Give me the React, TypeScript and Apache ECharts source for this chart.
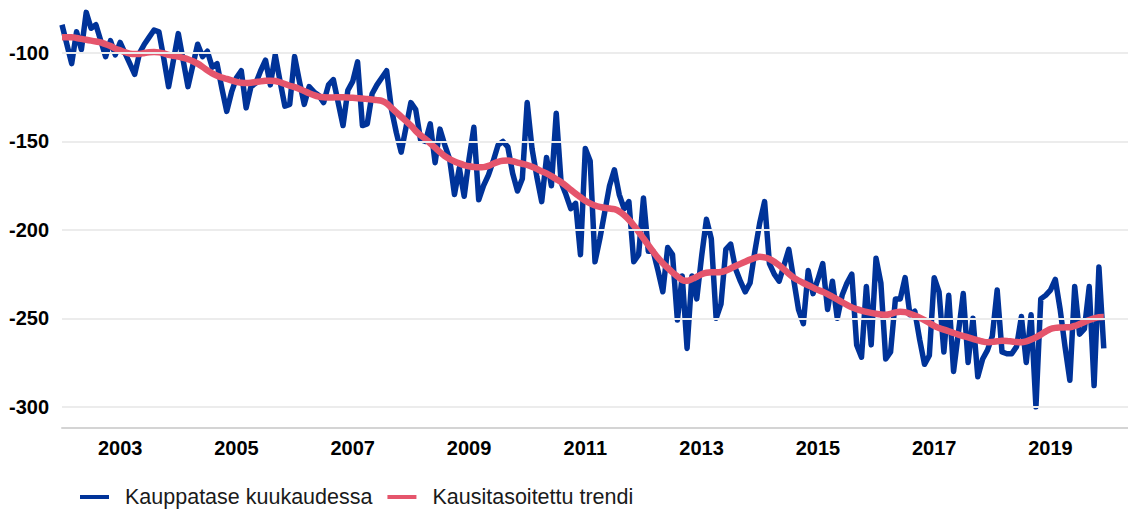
import React, { useEffect, useRef } from "react";
import * as echarts from "echarts";

const START_YEAR = 2002;
const AXIS_MONTHS = 221;
const YEAR_LABELS = [2003, 2005, 2007, 2009, 2011, 2013, 2015, 2017, 2019];
const Y_TICKS = [-100, -150, -200, -250, -300];
const SERIES_NAMES = ["Kauppatase kuukaudessa", "Kausitasoitettu trendi"];

const monthlyBalance = [
  -84, -95, -106, -88, -98, -77, -86, -84, -93, -102, -93, -101,
  -94, -100, -106, -112, -100, -95, -91, -87, -88, -103, -119, -104,
  -89, -104, -119, -107, -95, -102, -99, -108, -106, -120, -133, -122,
  -114, -110, -131, -119, -117, -110, -104, -118, -101, -116, -130, -129,
  -102, -116, -129, -119, -122, -124, -128, -118, -115, -128, -141, -121,
  -116, -105, -141, -140, -123, -118, -114, -110, -132, -145, -156, -142,
  -128, -132, -149, -150, -140, -162, -143, -152, -160, -180, -165, -181,
  -160, -142, -183, -175, -169, -161, -152, -150, -153, -168, -178, -171,
  -128, -154, -170, -184, -159, -175, -134, -173, -180, -188, -185, -214,
  -154, -161, -218, -205, -190, -175, -166, -180, -188, -184, -218, -214,
  -182, -212, -212, -223, -235, -210, -214, -251, -226, -267, -226, -239,
  -215, -194, -205, -250, -242, -211, -208, -222, -229, -235, -230, -212,
  -196, -184, -219, -225, -229, -220, -211, -228, -245, -253, -223, -236,
  -228, -219, -245, -229, -250, -237, -230, -225, -265, -272, -232, -265,
  -216, -230, -273, -269, -239, -239, -227, -248, -246, -262, -276, -271,
  -227, -235, -269, -237, -280, -258, -236, -275, -250, -283, -273, -268,
  -260, -234, -269, -270, -270, -266, -249, -275, -248, -300, -239, -237,
  -234, -228, -245, -266, -285, -232, -259, -256, -232, -288, -221, -267,
];

const seasonalTrend = [
  -91, -91, -91, -91.5, -92, -92.5, -93, -93.5, -94, -95, -96, -97.5,
  -98.5, -99.5, -100.3, -100.6, -100.5, -100, -99.6, -99.4, -99.6, -100.2, -101, -101.5,
  -102, -102.7, -103.5, -104.6, -106, -107.8, -109.8, -111.5, -112.8, -113.8, -114.6, -115.5,
  -116.3, -116.8, -117, -116.8, -116.4, -116, -115.7, -115.6, -115.8, -116.5, -117.5, -118.5,
  -119.3, -120.3, -121.5, -122.7, -123.8, -124.6, -125, -125.1, -125.1, -125, -125, -125.1,
  -125.3, -125.5, -125.7, -126, -126.3, -126.6, -127, -128.5, -131, -133.5, -136, -138.5,
  -141, -144, -146.5, -148.6, -151, -153.5, -156, -158.3, -160, -161.3, -162.4, -163.3,
  -164, -164.4, -164.6, -164.5, -163.8, -162.6, -161.5, -160.9, -160.8, -161.2, -161.9, -162.6,
  -163.3, -164.3, -165.5, -166.9, -168, -169.6, -171.3, -173, -175, -177.3, -179.5, -181.5,
  -183.5, -185, -186.2, -187, -187.5, -187.9, -188.3, -189.5, -191.6, -194.3, -197.5, -201,
  -204.8, -208.6, -212.3, -215.8, -218.8, -221.5, -224, -226.3, -228.3, -228.8, -227.8, -226.5,
  -225, -224.2, -224, -224, -223.8, -223, -221.8, -220.4, -219.2, -218, -216.8, -215.8,
  -215.2, -215.5, -216.4, -218, -220, -222.3, -224.8, -227, -228.6, -230, -231.3, -232.6,
  -233.9, -235, -236.3, -237.8, -239.3, -240.9, -242.4, -243.8, -244.8, -245.6, -246.3, -246.9,
  -247.4, -247.8, -248, -247.5, -246.6, -246.2, -246.5, -247.4, -248.4, -249.6, -251, -252.6,
  -254.2, -255.4, -256.4, -257.3, -258.3, -259.2, -260, -260.8, -261.6, -262.4, -263.1, -263.5,
  -263.3, -263, -262.7, -262.8, -263.1, -263.4, -263.5, -263, -262, -260.7, -259.2, -257.5,
  -256, -255.4, -255.2, -255.1, -255, -254.3, -253.2, -252, -250.9, -250, -249.4, -249.3,
];

const BLUE = "#003399";
const RED = "#e5556c";
const FONT = "'Liberation Sans', Arial, Helvetica, sans-serif";

export default function App() {
  const ref = useRef<HTMLDivElement>(null);

  useEffect(() => {
    if (!ref.current) return;
    const chart = echarts.init(ref.current, null, { renderer: "svg" });
    const categories: string[] = [];
    for (let i = 0; i < AXIS_MONTHS; i++) {
      const y = START_YEAR + Math.floor(i / 12);
      const m = (i % 12) + 1;
      categories.push(`${y}-${String(m).padStart(2, "0")}`);
    }

    chart.setOption({
      animation: false,
      textStyle: { fontFamily: FONT },
      grid: { left: 62, right: 0, top: 0, bottom: 83, containLabel: false },
      legend: {
        data: SERIES_NAMES,
        left: 80,
        top: 486,
        padding: 0,
        icon: "rect",
        itemWidth: 29,
        itemHeight: 4,
        itemGap: 15,
        formatter: (name: string) => `{g| }{t|${name}}`,
        textStyle: {
          fontSize: 21.5,
          lineHeight: 22,
          color: "#1a1a1a",
          fontFamily: FONT,
          rich: {
            g: { width: 11, fontSize: 21.5, lineHeight: 22, fontFamily: FONT },
            t: { fontSize: 21.5, lineHeight: 22, color: "#1a1a1a", fontFamily: FONT },
          },
        },
      },
      xAxis: {
        type: "category",
        data: categories,
        boundaryGap: false,
        axisTick: { show: false },
        axisLine: { show: true, lineStyle: { color: "#d4d4d4", width: 2 } },
        axisLabel: {
          interval: (index: number, value: string) =>
            value.endsWith("-01") && YEAR_LABELS.includes(Number(value.slice(0, 4))),
          formatter: (value: string) => value.slice(0, 4),
          fontSize: 20,
          fontWeight: "bold",
          color: "#000",
          margin: 10,
          fontFamily: FONT,
        },
        splitLine: { show: false },
      },
      yAxis: {
        type: "value",
        min: -312,
        max: -70,
        axisLine: { show: false },
        axisTick: { show: false },
        splitLine: { show: false },
        axisLabel: {
          customValues: Y_TICKS,
          fontSize: 20,
          fontWeight: "bold",
          color: "#000",
          margin: 13,
          fontFamily: FONT,
        },
      },
      series: [
        {
          name: "grid",
          type: "line",
          data: [],
          z: 1,
          silent: true,
          markLine: {
            silent: true,
            symbol: "none",
            label: { show: false },
            lineStyle: { color: "#ececec", width: 2, type: "solid" },
            data: Y_TICKS.map((v) => ({ yAxis: v })),
          },
        },
        {
          name: SERIES_NAMES[0],
          type: "line",
          data: monthlyBalance,
          showSymbol: false,
          symbol: "none",
          z: 3,
          lineStyle: { color: BLUE, width: 5.5, join: "round" },
          itemStyle: { color: BLUE },
        },
        {
          name: SERIES_NAMES[1],
          type: "line",
          data: seasonalTrend,
          showSymbol: false,
          symbol: "none",
          smooth: 0.3,
          z: 4,
          lineStyle: { color: RED, width: 6.5, join: "round" },
          itemStyle: { color: RED },
        },
      ],
    });
    return () => chart.dispose();
  }, []);

  return (
    <div
      ref={ref}
      style={{ position: "fixed", left: 0, top: 0, width: 1128, height: 511, background: "#fff" }}
    />
  );
}
